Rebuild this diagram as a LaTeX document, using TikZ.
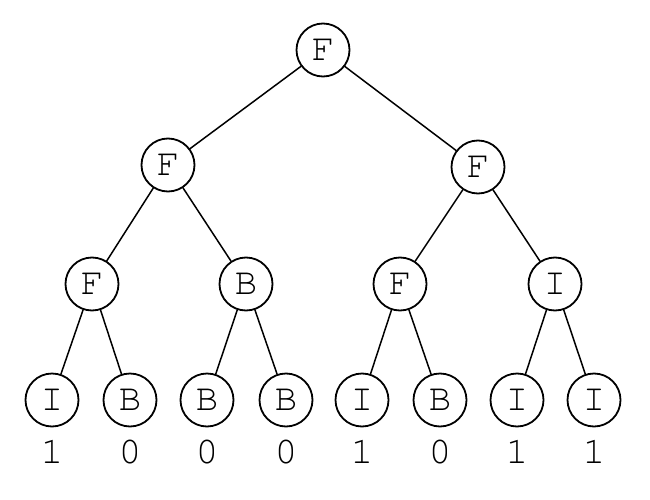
\documentclass[tikz,border=0pt]{standalone}
\usepackage{fontspec}
\setmonofont{TeX Gyre Cursor}
\usetikzlibrary{positioning}

\tikzset{
  state/.style={draw, circle, line width=1.8pt, minimum size=53pt, inner sep=0pt},
  leafval/.style={anchor=base}
}

\begin{document}
\begin{tikzpicture}[x=1pt, y=-1pt, font=\ttfamily\fontsize{38}{42}\selectfont, line width=1.5pt, line cap=round, line join=round]
  \useasboundingbox (0,0) rectangle (650,500);

  % Upper levels.
  \node[state] (root) at (323,50) {F};
  \node[state] (l) at (168,165) {F};
  \node[state] (r) at (478,167) {F};
  \node[state] (ll) at (92,284) {F};
  \node[state] (lr) at (246,284) {B};
  \node[state] (rl) at (400,284) {F};
  \node[state] (rr) at (555,284) {I};

  % Leaves and their values.
  \foreach \n/\x/\s/\v in {a/52/I/1, b/130/B/0, c/207/B/0, d/286/B/0,
                           e/362/I/1, f/440/B/0, g/517/I/1, h/594/I/1}{
    \node[state] (\n) at (\x,400) {\s};
    \node[leafval] (v\n) at (\x,463) {\v};
  }

  % Edges.
  \draw (root) -- (l) (root) -- (r);
  \draw (l) -- (ll) (l) -- (lr) (r) -- (rl) (r) -- (rr);
  \draw (ll) -- (a) (ll) -- (b) (lr) -- (c) (lr) -- (d);
  \draw (rl) -- (e) (rl) -- (f) (rr) -- (g) (rr) -- (h);
\end{tikzpicture}
\end{document}
